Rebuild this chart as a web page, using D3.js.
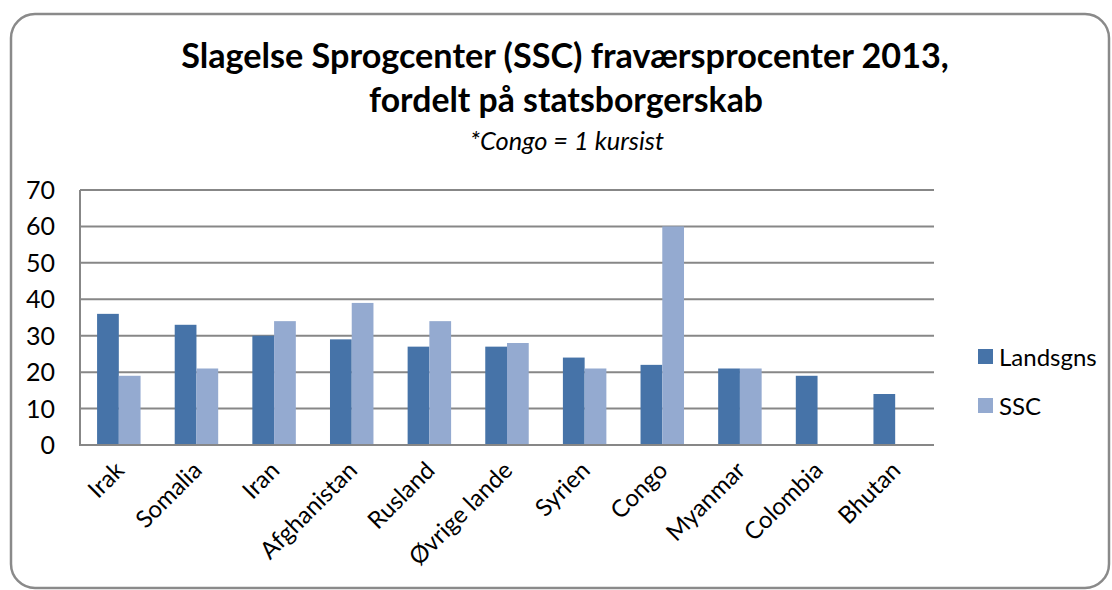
<!DOCTYPE html>
<html>
<head>
<meta charset="utf-8">
<script src="https://cdn.jsdelivr.net/npm/d3@7"></script>
<style>
  body { margin: 0; background: #fff; }
  svg text { font-family: Lato, "Open Sans", sans-serif; fill: #000; }
</style>
</head>
<body>
<svg id="chart" width="1112" height="590"></svg>
<script>
// data
const categories = ["Irak", "Somalia", "Iran", "Afghanistan", "Rusland", "Øvrige lande",
  "Syrien", "Congo", "Myanmar", "Colombia", "Bhutan"];
const landsgns = [36, 33, 30, 29, 27, 27, 24, 22, 21, 19, 14];
const ssc = [19, 21, 34, 39, 34, 28, 21, 60, 21, null, null];
const seriesNames = ["Landsgns", "SSC"];
const seriesColors = ["#4673a8", "#94aad0"];
const yTicks = [0, 10, 20, 30, 40, 50, 60, 70];

const svg = d3.select("#chart");

// outer rounded frame
svg.append("rect")
  .attr("x", 11).attr("y", 14)
  .attr("width", 1098).attr("height", 574)
  .attr("rx", 24).attr("ry", 24)
  .attr("fill", "#fff")
  .attr("stroke", "#8a8a8a")
  .attr("stroke-width", 2.5);

// fit a text element to a target width
function fitText(sel, target) {
  const w = sel.node().getComputedTextLength();
  const fs = parseFloat(sel.attr("font-size"));
  sel.attr("font-size", fs * target / w);
}

// titles
const t1 = svg.append("text")
  .attr("x", 565).attr("y", 68)
  .attr("text-anchor", "middle")
  .attr("font-size", 29).attr("font-weight", "bold")
  .text("Slagelse Sprogcenter (SSC) fraværsprocenter 2013,");
fitText(t1, 768);
const t2 = svg.append("text")
  .attr("x", 566).attr("y", 112)
  .attr("text-anchor", "middle")
  .attr("font-size", 29).attr("font-weight", "bold")
  .text("fordelt på statsborgerskab");
fitText(t2, 394);
const t3 = svg.append("text")
  .attr("x", 567).attr("y", 150)
  .attr("text-anchor", "middle")
  .attr("font-size", 20).attr("font-style", "italic")
  .text("*Congo = 1 kursist");
fitText(t3, 194);

// scales
const x0 = d3.scaleBand().domain(categories).range([80, 934]).paddingInner(0.44).paddingOuter(0.22);
const x1 = d3.scaleBand().domain(seriesNames).range([0, x0.bandwidth()]);
const y = d3.scaleLinear().domain([0, 70]).range([445, 190]);

// gridlines
svg.append("g").selectAll("line")
  .data(yTicks.filter(d => d > 0))
  .join("line")
  .attr("x1", 80).attr("x2", 934)
  .attr("y1", d => y(d)).attr("y2", d => y(d))
  .attr("stroke", "#878787")
  .attr("stroke-width", 2);

// bars
const groups = svg.append("g").selectAll("g")
  .data(categories)
  .join("g")
  .attr("transform", d => `translate(${x0(d)},0)`);

groups.selectAll("rect")
  .data((d, i) => [
    { s: seriesNames[0], v: landsgns[i] },
    { s: seriesNames[1], v: ssc[i] }
  ].filter(e => e.v != null))
  .join("rect")
  .attr("x", e => x1(e.s))
  .attr("y", e => y(e.v))
  .attr("width", x1.bandwidth())
  .attr("height", e => y(0) - y(e.v))
  .attr("fill", e => seriesColors[seriesNames.indexOf(e.s)]);

// axes lines
svg.append("line")
  .attr("x1", 80).attr("x2", 80).attr("y1", 190).attr("y2", 445)
  .attr("stroke", "#878787").attr("stroke-width", 2);
svg.append("line")
  .attr("x1", 79).attr("x2", 934).attr("y1", 445).attr("y2", 445)
  .attr("stroke", "#878787").attr("stroke-width", 2);

// y labels
svg.append("g").selectAll("text")
  .data(yTicks)
  .join("text")
  .attr("x", 55)
  .attr("y", d => y(d))
  .attr("dy", "0.36em")
  .attr("text-anchor", "end")
  .attr("font-size", 25)
  .text(d => d);

// x labels
svg.append("g").selectAll("text")
  .data(categories)
  .join("text")
  .attr("text-anchor", "end")
  .attr("font-size", 24)
  .attr("transform", d => `translate(${x0(d) + x0.bandwidth() / 2 - 5},${460}) rotate(-45)`)
  .attr("dy", "0.7em")
  .text(d => d);

// legend
const legend = svg.append("g").selectAll("g")
  .data(seriesNames)
  .join("g")
  .attr("transform", (d, i) => `translate(978,${349 + i * 49})`);
legend.append("rect")
  .attr("width", 15).attr("height", 15)
  .attr("fill", (d, i) => seriesColors[i]);
legend.append("text")
  .attr("x", 21).attr("y", 8)
  .attr("dy", "0.36em")
  .attr("font-size", 24)
  .text(d => d);
</script>
</body>
</html>
